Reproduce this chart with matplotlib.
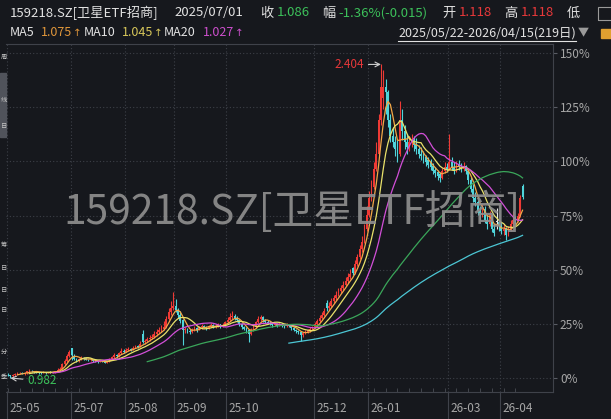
import numpy as np
import pandas as pd
import matplotlib
matplotlib.use("Agg")
import matplotlib.pyplot as plt
import matplotlib.transforms as mtransforms
from matplotlib.lines import Line2D
from matplotlib.patches import Rectangle

plt.rcParams['font.family'] = ['Noto Sans CJK SC', 'DejaVu Sans']

# daily bars 2025/05/22 - 2026/04/15, one row per month
opens = [
    0.998, 0.995, 0.990, 0.996, 1.000, 1.003, 1.005,
    1.002, 1.004, 1.012, 1.015, 1.013, 1.010, 1.008, 1.006, 1.005, 1.007, 1.006, 1.008, 1.008, 1.010, 1.012, 1.020, 1.025, 1.045, 1.060, 1.083,
    1.118, 1.084, 1.070, 1.060, 1.068, 1.075, 1.072, 1.066, 1.062, 1.064, 1.060, 1.058, 1.055, 1.060, 1.057, 1.052, 1.058, 1.068, 1.076, 1.085, 1.080, 1.095, 1.105,
    1.100, 1.108, 1.115, 1.110, 1.120, 1.128, 1.125, 1.180, 1.145, 1.150, 1.158, 1.165, 1.170, 1.180, 1.190, 1.200, 1.205, 1.215, 1.250, 1.280, 1.300,
    1.310, 1.290, 1.270, 1.245, 1.200, 1.205, 1.195, 1.190, 1.200, 1.210, 1.200, 1.212, 1.220, 1.215, 1.210, 1.218, 1.222, 1.215, 1.220, 1.225, 1.218, 1.222,
    1.235, 1.245, 1.258, 1.265, 1.255, 1.245, 1.225, 1.212, 1.205, 1.200, 1.180, 1.200, 1.215, 1.235, 1.250, 1.258, 1.245,
    1.238, 1.232, 1.228, 1.222, 1.225, 1.220, 1.226, 1.222, 1.218, 1.225, 1.220, 1.210, 1.200, 1.195, 1.190, 1.178, 1.185, 1.192, 1.198, 1.205,
    1.212, 1.225, 1.240, 1.255, 1.270, 1.320, 1.300, 1.310, 1.330, 1.345, 1.360, 1.375, 1.390, 1.405, 1.420, 1.440, 1.480, 1.460, 1.500, 1.530, 1.565, 1.600, 1.660,
    1.720, 1.800, 1.850, 1.930, 2.000, 2.150, 2.250, 2.300, 2.280, 2.150, 2.080, 2.050, 2.020, 2.000, 2.150, 2.100, 2.050, 2.030, 2.050, 2.060,
    2.040, 2.020, 2.000, 2.000, 1.985, 1.970, 1.960, 1.945, 1.925, 1.915, 1.905, 1.890, 1.920, 1.940,
    1.930, 1.960, 1.940, 1.920, 1.950, 1.940, 1.930, 1.945, 1.920, 1.880, 1.840, 1.800, 1.780, 1.740, 1.720, 1.750, 1.700, 1.680, 1.720, 1.660, 1.690, 1.690,
    1.670, 1.650, 1.660, 1.630, 1.660, 1.680, 1.700, 1.695, 1.715, 1.855,
]
highs = [
    1.003, 0.998, 1.000, 1.006, 1.008, 1.010, 1.009,
    1.008, 1.016, 1.022, 1.020, 1.016, 1.013, 1.011, 1.010, 1.012, 1.010, 1.011, 1.012, 1.014, 1.016, 1.026, 1.032, 1.050, 1.068, 1.090, 1.108,
    1.118, 1.090, 1.074, 1.072, 1.080, 1.079, 1.074, 1.069, 1.068, 1.066, 1.063, 1.061, 1.064, 1.062, 1.059, 1.060, 1.072, 1.082, 1.096, 1.092, 1.102, 1.118, 1.112,
    1.116, 1.124, 1.120, 1.128, 1.134, 1.134, 1.150, 1.200, 1.160, 1.168, 1.175, 1.180, 1.195, 1.205, 1.215, 1.222, 1.240, 1.265, 1.300, 1.330, 1.371,
    1.340, 1.300, 1.285, 1.250, 1.215, 1.210, 1.205, 1.208, 1.218, 1.214, 1.220, 1.228, 1.224, 1.220, 1.224, 1.230, 1.226, 1.226, 1.232, 1.228, 1.230, 1.242,
    1.260, 1.275, 1.285, 1.272, 1.262, 1.250, 1.232, 1.220, 1.212, 1.205, 1.208, 1.222, 1.242, 1.262, 1.268, 1.262, 1.250,
    1.245, 1.240, 1.235, 1.232, 1.230, 1.234, 1.230, 1.226, 1.232, 1.228, 1.224, 1.215, 1.206, 1.200, 1.195, 1.192, 1.198, 1.204, 1.212, 1.220,
    1.235, 1.250, 1.268, 1.280, 1.300, 1.335, 1.325, 1.345, 1.360, 1.378, 1.392, 1.405, 1.420, 1.438, 1.460, 1.475, 1.485, 1.515, 1.545, 1.585, 1.625, 1.680, 1.760,
    1.830, 1.880, 1.960, 2.050, 2.180, 2.404, 2.380, 2.340, 2.290, 2.180, 2.120, 2.080, 2.060, 2.240, 2.200, 2.130, 2.090, 2.080, 2.090, 2.080,
    2.070, 2.040, 2.030, 2.010, 1.995, 1.985, 1.975, 1.955, 1.940, 1.925, 1.915, 1.935, 1.960, 1.955,
    2.090, 1.985, 1.960, 1.965, 1.970, 1.955, 1.960, 1.950, 1.925, 1.895, 1.860, 1.825, 1.790, 1.760, 1.770, 1.760, 1.720, 1.740, 1.725, 1.680, 1.755, 1.700,
    1.690, 1.680, 1.665, 1.670, 1.700, 1.740, 1.715, 1.730, 1.810, 1.860,
]
lows = [
    0.990, 0.982, 0.986, 0.993, 0.997, 1.000, 0.999,
    0.998, 1.002, 1.008, 1.009, 1.006, 1.003, 1.002, 1.001, 1.003, 1.002, 1.003, 1.004, 1.005, 1.006, 1.010, 1.016, 1.022, 1.040, 1.055, 1.078,
    1.062, 1.062, 1.055, 1.056, 1.064, 1.066, 1.062, 1.058, 1.059, 1.056, 1.053, 1.050, 1.053, 1.054, 1.049, 1.050, 1.056, 1.064, 1.072, 1.074, 1.078, 1.090, 1.094,
    1.098, 1.104, 1.104, 1.108, 1.118, 1.118, 1.122, 1.140, 1.138, 1.145, 1.152, 1.160, 1.165, 1.174, 1.185, 1.192, 1.200, 1.210, 1.245, 1.270, 1.290,
    1.280, 1.255, 1.230, 1.131, 1.185, 1.185, 1.180, 1.186, 1.195, 1.192, 1.198, 1.206, 1.208, 1.202, 1.206, 1.212, 1.208, 1.210, 1.215, 1.210, 1.214, 1.218,
    1.230, 1.240, 1.250, 1.245, 1.238, 1.218, 1.205, 1.198, 1.188, 1.145, 1.175, 1.195, 1.210, 1.230, 1.240, 1.238, 1.230,
    1.225, 1.222, 1.215, 1.218, 1.212, 1.216, 1.215, 1.210, 1.214, 1.212, 1.202, 1.194, 1.188, 1.182, 1.150, 1.170, 1.180, 1.186, 1.192, 1.200,
    1.208, 1.220, 1.235, 1.248, 1.262, 1.285, 1.292, 1.305, 1.322, 1.338, 1.352, 1.368, 1.380, 1.398, 1.412, 1.432, 1.450, 1.455, 1.490, 1.522, 1.555, 1.595, 1.650,
    1.710, 1.785, 1.840, 1.920, 1.990, 2.130, 2.200, 2.180, 2.120, 2.050, 2.030, 1.990, 1.960, 1.990, 2.060, 2.020, 2.000, 2.010, 2.030, 2.010,
    2.000, 1.980, 1.970, 1.955, 1.945, 1.935, 1.925, 1.905, 1.895, 1.880, 1.870, 1.885, 1.910, 1.915,
    1.925, 1.925, 1.905, 1.915, 1.925, 1.915, 1.920, 1.905, 1.860, 1.825, 1.780, 1.760, 1.720, 1.700, 1.710, 1.685, 1.660, 1.670, 1.645, 1.625, 1.660, 1.650,
    1.635, 1.630, 1.610, 1.625, 1.650, 1.670, 1.680, 1.690, 1.710, 1.795,
]
closes = [
    0.995, 0.990, 0.996, 1.000, 1.003, 1.005, 1.002,
    1.004, 1.012, 1.015, 1.013, 1.010, 1.008, 1.006, 1.005, 1.007, 1.006, 1.008, 1.008, 1.010, 1.012, 1.020, 1.025, 1.045, 1.060, 1.083, 1.101,
    1.086, 1.070, 1.060, 1.068, 1.075, 1.072, 1.066, 1.062, 1.064, 1.060, 1.058, 1.055, 1.060, 1.057, 1.052, 1.058, 1.068, 1.076, 1.085, 1.080, 1.095, 1.105, 1.100,
    1.108, 1.115, 1.110, 1.120, 1.128, 1.125, 1.135, 1.145, 1.150, 1.158, 1.165, 1.170, 1.180, 1.190, 1.200, 1.205, 1.215, 1.250, 1.280, 1.300, 1.310,
    1.290, 1.270, 1.240, 1.200, 1.205, 1.195, 1.190, 1.200, 1.210, 1.200, 1.212, 1.220, 1.215, 1.210, 1.218, 1.222, 1.215, 1.220, 1.225, 1.218, 1.222, 1.235,
    1.245, 1.258, 1.265, 1.255, 1.245, 1.225, 1.212, 1.205, 1.195, 1.180, 1.200, 1.215, 1.235, 1.250, 1.258, 1.245, 1.238,
    1.232, 1.228, 1.222, 1.225, 1.220, 1.226, 1.222, 1.218, 1.225, 1.220, 1.210, 1.200, 1.195, 1.190, 1.178, 1.185, 1.192, 1.198, 1.205, 1.212,
    1.225, 1.240, 1.255, 1.270, 1.285, 1.300, 1.310, 1.330, 1.345, 1.360, 1.375, 1.390, 1.405, 1.420, 1.440, 1.455, 1.460, 1.500, 1.530, 1.565, 1.600, 1.660, 1.720,
    1.800, 1.850, 1.930, 2.000, 2.150, 2.300, 2.300, 2.280, 2.150, 2.080, 2.050, 2.020, 2.000, 2.150, 2.100, 2.050, 2.030, 2.050, 2.060, 2.040,
    2.020, 2.000, 1.990, 1.970, 1.960, 1.950, 1.940, 1.920, 1.910, 1.900, 1.890, 1.920, 1.940, 1.930,
    1.960, 1.940, 1.920, 1.950, 1.940, 1.930, 1.945, 1.920, 1.880, 1.840, 1.800, 1.780, 1.740, 1.720, 1.750, 1.700, 1.680, 1.720, 1.660, 1.640, 1.690, 1.670,
    1.650, 1.660, 1.630, 1.660, 1.680, 1.700, 1.695, 1.715, 1.800, 1.805,
]

month_labels = ['25-05', '25-07', '25-08', '25-09', '25-10', '25-12', '26-01', '26-03', '26-04']
month_start = [0, 27, 50, 71, 93, 130, 153, 187, 209]

base_price = 0.982
pct_levels = [0, 25, 50, 75, 100, 125, 150]
ma_periods = [5, 10, 20, 60, 120]
ma_colors = ['#f3a847', '#e9e26a', '#d24fd8', '#3aa65a', '#4cc6d4']

BG = '#16181d'
UP = '#ee3a35'
DN = '#4fd4da'
GRID = '#3d4048'
W, H = 611, 419

fig = plt.figure(figsize=(W / 100, H / 100), dpi=100, facecolor=BG)
ax = fig.add_axes([6 / W, 1 - 392 / H, (553 - 6) / W, (392 - 44) / H], facecolor=BG)

o = np.array(opens)
h = np.array(highs)
l = np.array(lows)
c = np.array(closes)
idx = np.arange(len(c))

colors = np.where(c > o, UP, np.where(c < o, DN, '#e8e8e8'))
ax.vlines(idx, l, h, colors=colors, linewidth=0.8, zorder=3)
body = np.maximum(np.abs(c - o), 0.002)
ax.bar(idx, body, bottom=np.minimum(o, c), width=0.75, color=colors, linewidth=0, zorder=3)

s = pd.Series(c)
for n, col in zip(ma_periods, ma_colors):
    ax.plot(idx, s.rolling(n).mean(), color=col, linewidth=0.9, zorder=4)

# axes ranges
ax.set_xlim(-0.85, 230.9)
ax.set_ylim(0.9187, 2.4966)

levels = [base_price * (1 + p / 100) for p in pct_levels]
ax.yaxis.tick_right()
ax.set_yticks(levels)
ax.set_yticklabels([f'{p}%' for p in pct_levels])
ax.tick_params(axis='y', length=3, width=0.8, color='#5a5d65', pad=2,
               labelcolor='#a6a6a6', labelsize=8.5)
for lv in levels:
    ax.axhline(lv, color=GRID, linestyle=(0, (1, 2)), linewidth=0.8, zorder=1)

ax.set_xticks([])
ax.set_xticks(np.arange(0, len(c), 5), minor=True)
ax.tick_params(axis='x', which='minor', direction='in', length=3, color='#4a4d55', labelbottom=False)

ax.spines['left'].set_visible(False)
for side in ['right', 'top', 'bottom']:
    ax.spines[side].set_color('#3f424a')
    ax.spines[side].set_linewidth(0.8)

trans = mtransforms.blended_transform_factory(ax.transData, ax.transAxes)
for lab, st in zip(month_labels, month_start):
    sep = st - 0.5
    ax.axvline(sep, color=GRID, linestyle=(0, (1, 2)), linewidth=0.8, zorder=1)
    ax.plot([sep, sep], [0, -0.09], transform=trans, clip_on=False, color='#3f424a', linewidth=0.8)
    ax.text(sep, -0.046, lab, transform=trans + mtransforms.ScaledTranslation(2.5 / 100, 0, fig.dpi_scale_trans),
            ha='left', va='center', fontsize=8.5, color='#a6a6a6')

# extreme price markers
i_hi = int(np.argmax(h))
i_lo = int(np.argmin(l))
ax.annotate(f'{h[i_hi]:.3f}', xy=(i_hi, h[i_hi]), xytext=(-12, 0), textcoords='offset points',
            ha='right', va='center', fontsize=8.5, color='#e8383a',
            arrowprops=dict(arrowstyle='->', color='#cfcfcf', lw=0.8, shrinkA=1, shrinkB=0), zorder=6)
ax.annotate(f'{l[i_lo]:.3f}', xy=(i_lo, l[i_lo]), xytext=(12, -2), textcoords='offset points',
            ha='left', va='center', fontsize=8.5, color='#3cc05a',
            arrowprops=dict(arrowstyle='->', color='#cfcfcf', lw=0.8, shrinkA=1, shrinkB=0), zorder=6)

# watermark
fig.text(292 / W, 1 - 212 / H, '159218.SZ[卫星ETF招商]', ha='center', va='center',
         fontsize=29.3, color='#8e8e8e', alpha=0.92, zorder=10)


def ftext(x, y, s, color='#e2e2e2', size=9.5, **kw):
    return fig.text(x / W, 1 - y / H, s, ha='left', va='center', fontsize=size, color=color, **kw)


GREEN = '#3cc05a'
RED = '#e8383a'
ftext(10, 13, '159218.SZ[卫星ETF招商]')
ftext(174, 13, '2025/07/01')
ftext(260, 13, '收')
ftext(277, 13, '1.086', GREEN)
ftext(322, 13, '幅')
ftext(338, 13, '-1.36%(-0.015)', GREEN)
ftext(442, 13, '开')
ftext(459, 13, '1.118', RED)
ftext(504, 13, '高')
ftext(521, 13, '1.118', RED)
ftext(567, 13, '低')

renderer = fig.canvas.get_renderer()
ftext(10, 33, 'MA5', size=9)
ftext(84, 33, 'MA10', size=9)
ftext(164, 33, 'MA20', size=9)
for x0, val, col in [(41, '1.075', '#e0963a'), (122, '1.045', '#d6c65a'), (203, '1.027', '#cc4fcc')]:
    t = ftext(x0, 33, val, col, size=9)
    x1 = t.get_window_extent(renderer).x1
    fig.text((x1 + 0.5) / W, 1 - 33 / H, '↑', ha='left', va='center', fontsize=7.5,
             color=col, family='DejaVu Sans')

ftext(398, 33, '2025/05/22-2026/04/15(219日)', size=9)
fig.add_artist(Line2D([398 / W, 576 / W], [1 - 41 / H, 1 - 41 / H], color='#e2e2e2', linewidth=0.8))
ftext(578, 33, '▼', '#9a9a9a', size=8)
fig.add_artist(Rectangle((601 / W, 1 - 38 / H), 10 / W, 9 / H, color='#e0a030'))
fig.add_artist(Rectangle((598 / W, 1 - 20 / H), 14 / W, 13 / H, fill=False, edgecolor='#9a9a9a', linewidth=0.8))

# side panel on the left, mostly out of view
fig.add_artist(Rectangle((0, 1 - 137 / H), 6 / W, 64 / H, color='#50535b'))
for yy, ch in [(57, '周'), (100, '线'), (126, '日'), (245, '筹'), (268, '日'), (290, '日'), (310, '日'), (352, '分'), (377, '季')]:
    fig.text(0.5 / W, 1 - yy / H, ch, ha='left', va='center', fontsize=4.5, color='#c8c8c8')

fig.savefig('out.png', dpi=100, facecolor=BG)
